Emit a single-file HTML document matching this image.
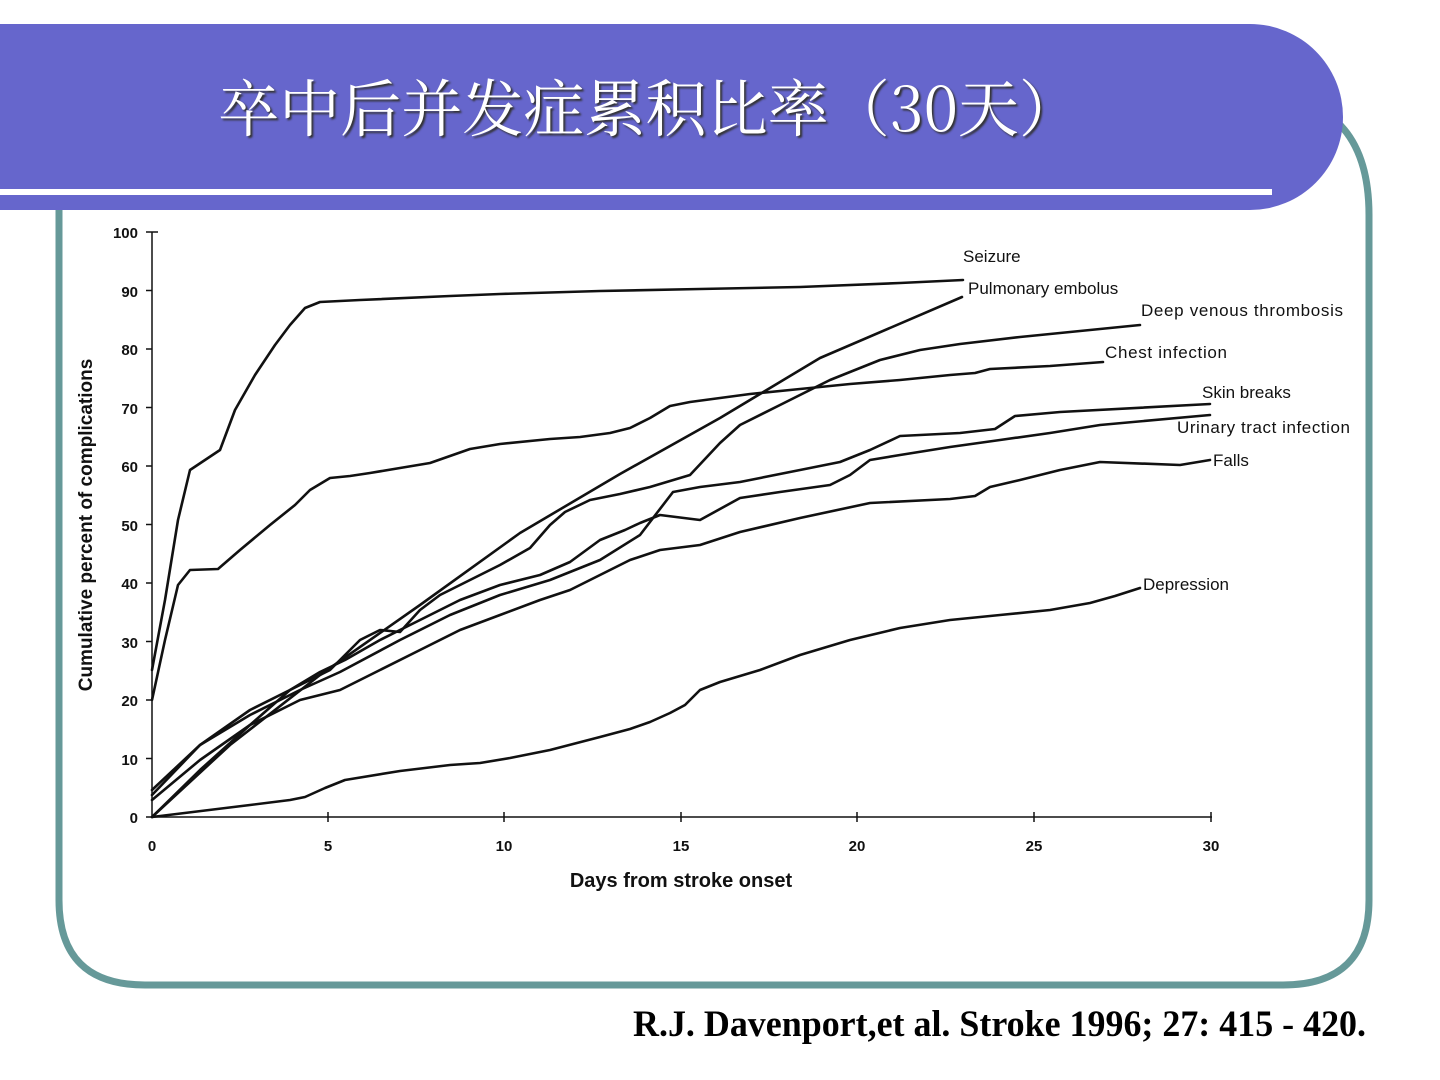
<!DOCTYPE html>
<html><head><meta charset="utf-8"><style>
html,body{margin:0;padding:0;background:#fff;width:1440px;height:1080px;overflow:hidden}
svg{display:block}
</style></head><body>
<svg width="1440" height="1080" viewBox="0 0 1440 1080" xmlns="http://www.w3.org/2000/svg">
<rect width="1440" height="1080" fill="#fff"/>
<path d="M59,120 L59,900 Q59,985 145,985 L1283,985 Q1369,985 1369,900 L1369,215 Q1369,150 1335,120" fill="none" stroke="#669999" stroke-width="7"/>
<path d="M0,24 L1250,24 A93,93 0 0 1 1250,210 L0,210 Z" fill="#6666cc"/>
<rect x="0" y="189" width="1272" height="6" fill="#fff"/>
<text x="218" y="131" textLength="862" lengthAdjust="spacingAndGlyphs" font-family="'Noto Serif CJK SC','Liberation Serif',serif" font-size="62" fill="#fff" style="text-shadow:2px 2px 2px #333">卒中后并发症累积比率（30天）</text>
<g font-family="'Liberation Sans',sans-serif" font-size="16" fill="#111">
<g stroke="#111" stroke-width="1.5">
<line x1="152" y1="232" x2="152" y2="817"/>
<line x1="152" y1="817" x2="1212" y2="817"/>
<line x1="146" y1="232" x2="158" y2="232"/>
<line x1="146" y1="290.5" x2="152" y2="290.5"/><line x1="146" y1="349" x2="152" y2="349"/>
<line x1="146" y1="407.5" x2="152" y2="407.5"/><line x1="146" y1="466" x2="152" y2="466"/>
<line x1="146" y1="524.5" x2="152" y2="524.5"/><line x1="146" y1="583" x2="152" y2="583"/>
<line x1="146" y1="641.5" x2="152" y2="641.5"/><line x1="146" y1="700" x2="152" y2="700"/>
<line x1="146" y1="758.5" x2="152" y2="758.5"/><line x1="146" y1="817" x2="152" y2="817"/>
<line x1="328" y1="812" x2="328" y2="822"/><line x1="504" y1="812" x2="504" y2="822"/>
<line x1="681" y1="812" x2="681" y2="822"/><line x1="857" y1="812" x2="857" y2="822"/>
<line x1="1034" y1="812" x2="1034" y2="822"/><line x1="1211" y1="812" x2="1211" y2="822"/>
</g>
<g text-anchor="end" font-weight="bold" font-size="15">
<text x="138" y="238">100</text><text x="138" y="297">90</text><text x="138" y="355">80</text>
<text x="138" y="414">70</text><text x="138" y="472">60</text><text x="138" y="531">50</text>
<text x="138" y="589">40</text><text x="138" y="648">30</text><text x="138" y="706">20</text>
<text x="138" y="765">10</text><text x="138" y="823">0</text>
</g>
<g text-anchor="middle" font-weight="bold" font-size="15">
<text x="152" y="851">0</text><text x="328" y="851">5</text><text x="504" y="851">10</text>
<text x="681" y="851">15</text><text x="857" y="851">20</text><text x="1034" y="851">25</text><text x="1211" y="851">30</text>
</g>
<text x="681" y="887" text-anchor="middle" font-weight="bold" font-size="20">Days from stroke onset</text>
<text transform="translate(92,525) rotate(-90)" text-anchor="middle" font-weight="bold" font-size="19">Cumulative percent of complications</text>
<text x="963" y="262" font-size="17">Seizure</text>
<text x="968" y="294" font-size="17">Pulmonary embolus</text>
<text x="1141" y="316" font-size="17" textLength="202">Deep venous thrombosis</text>
<text x="1105" y="358" font-size="17" textLength="122">Chest infection</text>
<text x="1202" y="398" font-size="17">Skin breaks</text>
<text x="1177" y="433" font-size="17" textLength="173">Urinary tract infection</text>
<text x="1213" y="466" font-size="17">Falls</text>
<text x="1143" y="590" font-size="17">Depression</text>
</g>
<g fill="none" stroke="#111" stroke-width="2.6" stroke-linejoin="round" stroke-linecap="round">
<polyline points="152,670 165,600 178,520 190,470 205,460 220,450 235,410 255,375 275,345 290,325 305,308 320,302 360,300 450,296 500,294 600,291 700,289 800,287 900,283 963,280"/>
<polyline points="152,700 165,640 178,585 190,570 218,569 240,550 270,525 295,505 310,490 330,478 350,476 370,473 400,468 430,463 450,456 470,449 500,444 550,439 580,437 610,433 630,428 650,418 670,406 690,402 720,398 750,394 800,389 850,384 900,380 950,375 975,373 990,369 1050,366 1103,362"/>
<polyline points="152,817 230,745 320,675 420,605 520,533 620,474 720,418 820,358 962,297"/>
<polyline points="152,795 200,745 250,710 300,685 330,670 360,640 380,630 400,632 420,610 440,595 460,585 500,565 530,548 550,525 565,512 590,500 620,494 650,487 690,475 720,443 740,425 780,405 830,380 880,360 920,350 960,344 1020,337 1140,325"/>
<polyline points="152,790 200,745 250,715 300,690 340,672 400,640 450,615 500,595 550,580 600,560 640,535 673,492 700,487 740,482 800,470 840,462 870,450 900,436 960,433 995,429 1015,416 1060,412 1210,404"/>
<polyline points="152,817 200,770 250,725 290,690 320,672 345,660 380,640 420,620 460,600 500,585 540,575 570,562 600,540 625,530 640,523 660,515 700,520 740,498 780,492 830,485 850,475 870,460 900,455 950,447 1000,440 1050,433 1100,425 1210,415"/>
<polyline points="152,800 200,760 250,725 300,700 340,690 380,670 420,650 460,630 500,615 540,600 570,590 600,575 630,560 660,550 700,545 740,532 800,518 870,503 950,499 975,496 990,487 1020,480 1060,470 1100,462 1180,465 1210,460"/>
<polyline points="152,817 250,805 290,800 305,797 325,788 345,780 400,771 450,765 480,763 510,758 550,750 600,737 630,729 650,722 670,713 685,705 700,690 720,682 760,670 800,655 850,640 900,628 950,620 1000,615 1050,610 1090,603 1115,596 1140,588"/>
</g>
<text x="633" y="1036" textLength="733" lengthAdjust="spacingAndGlyphs" font-family="'Liberation Serif',serif" font-weight="bold" font-size="37" fill="#000">R.J. Davenport,et al. Stroke 1996; 27: 415 - 420.</text>
</svg>
</body></html>
